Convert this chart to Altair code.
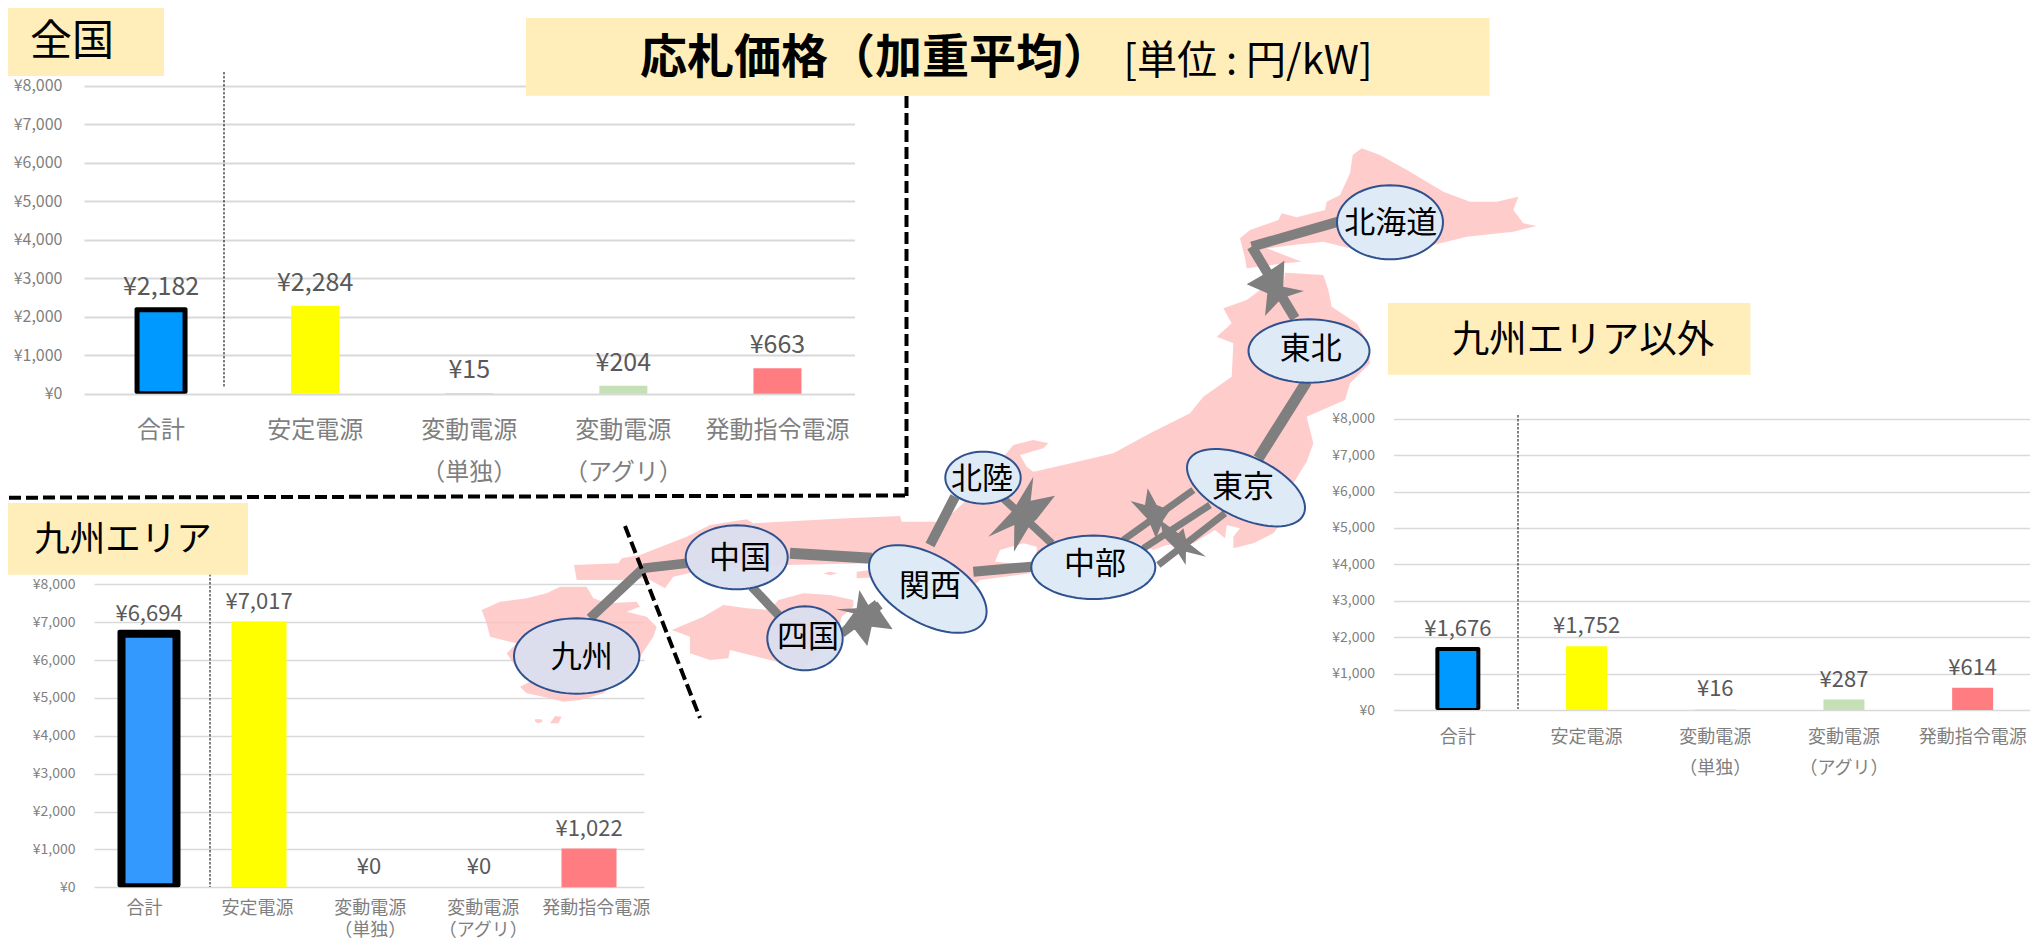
import math
import altair as alt
import pandas as pd

FONT = "Noto Sans CJK JP"

# ---- chart values ----
categories = ["合計", "安定電源", "変動電源\n（単独）", "変動電源\n（アグリ）", "発動指令電源"]
values_all = [2182, 2284, 15, 204, 663]
values_kyushu = [6694, 7017, 0, 0, 1022]
values_other = [1676, 1752, 16, 287, 614]
ticks = [0, 1000, 2000, 3000, 4000, 5000, 6000, 7000, 8000]
bar_colors = ["#0099FF", "#FFFF00", "#C5E0B4", "#C5E0B4", "#FF7C80"]

# ---- map geometry ----
def z5(p): return [(470 + x / 3, 430 + y / 3) for x, y in p]
def z4(p): return [(1150 + x / 3, 130 + y / 3) for x, y in p]
def z6(p): return [(900 + x / 3, 430 + y / 3) for x, y in p]

hokkaido = z4([(270,325),(300,300),(385,270),(395,250),(440,262),(525,240),(530,215),(570,195),(600,130),(608,75),(635,55),(690,75),(780,125),(880,185),(960,215),(1040,215),(1105,200),(1090,240),(1120,280),(1160,288),(1090,305),(950,320),(850,345),(780,385),(700,390),(620,360),(520,335),(430,345),(350,355),(455,395),(400,400),(290,415),(285,385)])
honshu = (
    z4([(405,428),(520,435),(535,480),(545,530),(620,580),(655,640),(660,700),(600,760),(585,810),(470,860),(490,940),(470,995),(430,1060),(460,1120),(400,1170),(370,1210),(310,1240),(250,1255)])
    + z5([(2290,320),(2310,295),(2270,285),(2265,325),(2235,300),(2170,340),(2090,345),(2050,360),(1990,335),(1700,370),(1700,350),(1660,340),(1590,360),(1575,395),(1685,405),(1680,430),(1530,450),(1450,520),(1250,440),(1160,445),(1160,425),(1205,420),(1205,400),(950,405),(700,420),(610,440),(585,475),(530,445),(450,450),(320,450),(312,405),(445,400),(455,385),(510,375),(650,320),(720,285),(830,268),(850,280),(1130,265),(1290,258),(1295,275),(1420,275),(1500,200),(1620,130),(1605,75),(1630,45),(1690,30),(1735,40),(1720,55),(1650,75),(1670,110),(1690,125),(1780,105),(1930,70),(2040,10)])
    + z4([(120,850),(160,800),(245,740),(250,640),(200,620),(245,580),(220,535),(290,510),(330,480),(400,470)])
)
shikoku = z5([(925,510),(1000,490),(1080,495),(1150,510),(1150,530),(1115,560),(1100,620),(1000,715),(780,660),(775,685),(720,690),(660,670),(660,620),(605,600),(700,560),(760,525),(830,535),(900,540)])
kyushu = z5([(35,540),(90,515),(170,505),(230,490),(270,470),(350,470),(370,505),(410,520),(500,515),(510,530),(470,545),(530,560),(560,590),(550,620),(510,680),(470,730),(400,790),(330,810),(280,815),(240,805),(170,790),(150,770),(190,750),(150,730),(110,670),(140,640),(60,620),(50,580)])
isle_a = z5([(195,868),(215,868),(218,875),(205,880),(195,875)])
isle_b = z5([(240,880),(255,858),(275,860),(265,880)])
isle_c = z5([(1060,430),(1080,425),(1103,430),(1080,436)])
land = [hokkaido, honshu, shikoku, kyushu, isle_a, isle_b, isle_c]

stars = [
    z4([(403,392),(400,470),(462,483),(395,505),(345,558),(352,490),(290,463),(355,425)]),
    z6([(400,140),(392,212),(465,197),(410,268),(390,285),(342,365),(343,285),(265,320),(335,245),(352,220)]),
    z6([(743,175),(770,225),(810,240),(790,270),(768,325),(745,270),(692,213),(735,225)]),
    z6([(780,270),(835,310),(850,295),(860,335),(918,380),(858,365),(857,405),(825,355),(790,320)]),
    z5([(1168,480),(1195,525),(1215,510),(1232,545),(1268,598),(1205,590),(1192,648),(1155,600),(1120,590),(1150,550),(1098,538),(1160,535)]),
]

links = []
def link(pts, w):
    for a, b in zip(pts, pts[1:]):
        links.append({"x": a[0], "y": a[1], "x2": b[0], "y2": b[1], "w": w})
link(z4([(565,275),(305,350),(435,565)]), 10)
link(z4([(470,755),(325,985)]), 11)
link(z6([(880,180),(670,330)]), 7)
link(z6([(930,225),(730,355)]), 7)
link(z6([(975,250),(775,405)]), 7)
link(z6([(310,205),(455,340)]), 8)
link(z6([(165,200),(90,345)]), 10)
link(z6([(220,425),(395,410)]), 10)
link(z5([(960,370),(1205,385)]), 11)
link(z5([(650,400),(520,415),(360,565)]), 9.5)
link(z5([(845,470),(925,555)]), 9)
link(z5([(1115,610),(1230,525)]), 9)

EAST, WEST = "#DEEBF7", "#D9DFF0"
areas = [
    # name, cx, cy, a, b, tilt, fill, tx, ty
    ("北海道", 1390, 222.3, 53, 37, 0, EAST, 1390.7, 224),
    ("東北", 1309, 351, 60.5, 31.7, 0, EAST, 1310.7, 350),
    ("東京", 1246, 487.7, 63.5, 30.8, 25, EAST, 1243, 488),
    ("中部", 1093.3, 567.3, 62, 31.7, 0, EAST, 1095, 565),
    ("北陸", 983, 477.7, 37.7, 26, 0, EAST, 982, 480),
    ("関西", 927.8, 589, 65, 34, 30, EAST, 930, 586.7),
    ("中国", 736.7, 557.3, 51, 32, 0, WEST, 740, 559),
    ("四国", 805, 638.3, 37.7, 32, 0, WEST, 808, 638),
    ("九州", 576.7, 656, 62.7, 37.7, 0, WEST, 581.7, 658),
]

def ellipse(cx, cy, a, b, tilt):
    t = math.radians(tilt)
    pts = []
    for i in range(73):
        u = 2 * math.pi * i / 72
        x, y = a * math.cos(u), b * math.sin(u)
        pts.append((cx + x * math.cos(t) - y * math.sin(t), cy + x * math.sin(t) + y * math.cos(t)))
    return pts

def feature(pts):
    ring = [list(p) for p in pts]
    if ring[0] != ring[-1]:
        ring.append(ring[0])
    return {"type": "Feature", "properties": {}, "geometry": {"type": "Polygon", "coordinates": [ring]}}

VIEW_W, VIEW_H = 2022, 934
PX = alt.Scale(domain=[8, 8 + VIEW_W], range=[0, VIEW_W], nice=False, zero=False)
PY = alt.Scale(domain=[8, 8 + VIEW_H], range=[0, VIEW_H], nice=False, zero=False)

def shapes(polys, **mark):
    return alt.Chart(alt.Data(values=[feature(p) for p in polys])).mark_geoshape(**mark).project(
        type="identity", scale=1, translate=[-8, -8])

def rules(rows, **mark):
    return alt.Chart(pd.DataFrame(rows)).mark_rule(**mark).encode(
        x=alt.X("x:Q", scale=PX, axis=None), y=alt.Y("y:Q", scale=PY, axis=None),
        x2="x2:Q", y2="y2:Q", strokeWidth=alt.StrokeWidth("w:Q", scale=None))

def texts(rows, **mark):
    return alt.Chart(pd.DataFrame(rows)).mark_text(font=FONT, baseline="middle", **mark).encode(
        x=alt.X("x:Q", scale=PX, axis=None), y=alt.Y("y:Q", scale=PY, axis=None), text="t:N")

def boxes(rows):
    return alt.Chart(pd.DataFrame(rows)).mark_rect(color="#FFEEBA").encode(
        x=alt.X("x:Q", scale=PX, axis=None), y=alt.Y("y:Q", scale=PY, axis=None), x2="x2:Q", y2="y2:Q")

def panel(values, x0, x1, y0, y8, barw, edge, vsize, vdy, tsize, tlabel_right, lsize, lpad, lheight, label_range, grid_w, total_color):
    df = pd.DataFrame({"cat": categories, "value": values, "color": bar_colors, "base": [0] * len(values)})
    df.loc[0, "color"] = total_color
    xs = alt.Scale(domain=categories, range=[x0 - 8, x1 - 8], paddingInner=0, paddingOuter=0)
    ys = alt.Scale(domain=[0, 8000], range=[y0 - 8, y8 - 8], nice=False)
    yaxis = alt.Axis(orient="left", values=ticks, labelExpr="'¥' + format(datum.value, ',d')", title=None,
                     domain=False, ticks=False, grid=True, gridColor="#D9D9D9", gridWidth=grid_w,
                     labelFont=FONT, labelFontSize=tsize, labelColor="#7F7F7F", labelPadding=0,
                     offset=-(tlabel_right - 8))
    x_enc = alt.X("cat:N", scale=xs, sort=None, axis=None)
    y_enc = alt.Y("value:Q", scale=ys, axis=None, stack=None)
    others = alt.Chart(df).transform_filter("datum.cat != '合計'").mark_bar(width=barw).encode(
        x=x_enc, y=y_enc, y2="base:Q", color=alt.Color("color:N", scale=None))
    # the total bar: a black frame under a narrower fill, both standing on the baseline
    frame = alt.Chart(df).transform_filter("datum.cat == '合計'").mark_bar(
        width=barw + edge, color="black", yOffset=-edge / 2, cornerRadius=2).encode(x=x_enc, y=y_enc, y2="base:Q")
    total = alt.Chart(df).transform_filter("datum.cat == '合計'").mark_bar(
        width=barw - edge, yOffset=edge / 2, y2Offset=-edge / 2).encode(
        x=x_enc, y=y_enc, y2="base:Q", color=alt.Color("color:N", scale=None))
    labels = alt.Chart(df).transform_calculate(label="'¥' + format(datum.value, ',d')").mark_text(
        font=FONT, fontSize=vsize, color="#595959", baseline="middle", dy=vdy).encode(
        x=x_enc, y=y_enc, text="label:N")
    inner = alt.layer(others, frame, total, labels)
    y_host = alt.Chart(df).mark_bar(opacity=0).encode(x=x_enc, y=alt.Y("value:Q", scale=ys, axis=yaxis))
    xaxis = alt.Axis(orient="bottom", title=None, domain=False, ticks=False, grid=False, labelAngle=0,
                     labelExpr="split(datum.label, '\\n')", labelFont=FONT, labelFontSize=lsize,
                     labelColor="#7F7F7F", labelPadding=lpad, labelLineHeight=lheight, labelOverlap=False,
                     labelBaseline="middle", labelAlign="center",
                     offset=-(VIEW_H - (y0 - 8)))
    x_host = alt.Chart(df).mark_bar(opacity=0).encode(
        x=alt.X("cat:N", sort=None, axis=xaxis,
                scale=alt.Scale(domain=categories, range=[label_range[0] - 8, label_range[1] - 8], paddingInner=0, paddingOuter=0)))
    return [y_host, inner, x_host]

layers = [
    shapes(land, filled=True, fill="#FFBFBF", fillOpacity=0.8, stroke=None),
    rules(links, color="#7F7F7F"),
    shapes(stars, filled=True, fill="#7F7F7F", stroke=None),
]
east = [a for a in areas if a[6] == EAST]
west = [a for a in areas if a[6] == WEST]
layers.append(shapes([ellipse(a[1], a[2], a[3], a[4], a[5]) for a in east],
                     filled=True, fill=EAST, stroke="#2F528F", strokeWidth=2))
layers.append(shapes([ellipse(a[1], a[2], a[3], a[4], a[5]) for a in west],
                     filled=True, fill=WEST, fillOpacity=0.93, stroke="#2F528F", strokeWidth=2))
layers.append(texts([{"x": a[7], "y": a[8], "t": a[0]} for a in areas], fontSize=31, color="black"))

layers += panel(values_all, 84, 854.5, 393.7, 85.7, 48, 5, 25, -23, 16, 62, 24, 37, 42, (84, 854.5), 2, "#0099FF")
layers += panel(values_kyushu, 94, 644, 887.3, 584.3, 55, 8, 22, -20, 14, 75, 18, 21, 22, (88.1, 652.6), 1.5, "#3399FF")
layers += panel(values_other, 1393.5, 2037, 710, 418.7, 41, 4, 22, -20, 14, 1374.5, 18, 27, 31, (1393.5, 2037), 1.5, "#0099FF")

# separators inside the panels
layers.append(rules([
    {"x": 224, "y": 72, "x2": 224, "y2": 388, "w": 1},
    {"x": 210, "y": 570, "x2": 210, "y2": 887, "w": 1},
    {"x": 1518, "y": 415, "x2": 1518, "y2": 709, "w": 1},
], color="black", strokeDash=[2.5, 1.5]))
# dashed frames
layers.append(rules([
    {"x": 906.5, "y": 96, "x2": 906.5, "y2": 496, "w": 4},
    {"x": 9, "y": 497.7, "x2": 908, "y2": 495.5, "w": 4},
    {"x": 625, "y": 526, "x2": 700, "y2": 718, "w": 4},
], color="black", strokeDash=[12, 5]))

layers.append(boxes([
    {"x": 526, "y": 18, "x2": 1489.5, "y2": 95.7},
    {"x": 8, "y": 8, "x2": 164, "y2": 76},
    {"x": 8, "y": 503, "x2": 248, "y2": 574.7},
    {"x": 1388, "y": 303, "x2": 1750.4, "y2": 374.7},
]))
layers.append(texts([{"x": 875, "y": 59, "t": "応札価格（加重平均）"}], fontSize=47, fontWeight="bold", color="black"))
layers.append(texts([{"x": 1248, "y": 62, "t": "[単位 : 円/kW]"}], fontSize=40, color="black"))
layers.append(texts([{"x": 72, "y": 42, "t": "全国"}], fontSize=42, color="black"))
layers.append(texts([{"x": 123, "y": 540, "t": "九州エリア"}], fontSize=35.5, color="black"))
layers.append(texts([{"x": 1583, "y": 341, "t": "九州エリア以外"}], fontSize=37.5, color="black"))

chart = alt.layer(*layers).resolve_scale(x="independent", y="independent").resolve_axis(x="independent", y="independent").properties(
    width=VIEW_W, height=VIEW_H, padding=0, autosize=alt.AutoSizeParams(type="none"),
    background="white").configure_view(stroke=None)

chart.save("out.html", embed_options={"renderer": "svg", "actions": False})
